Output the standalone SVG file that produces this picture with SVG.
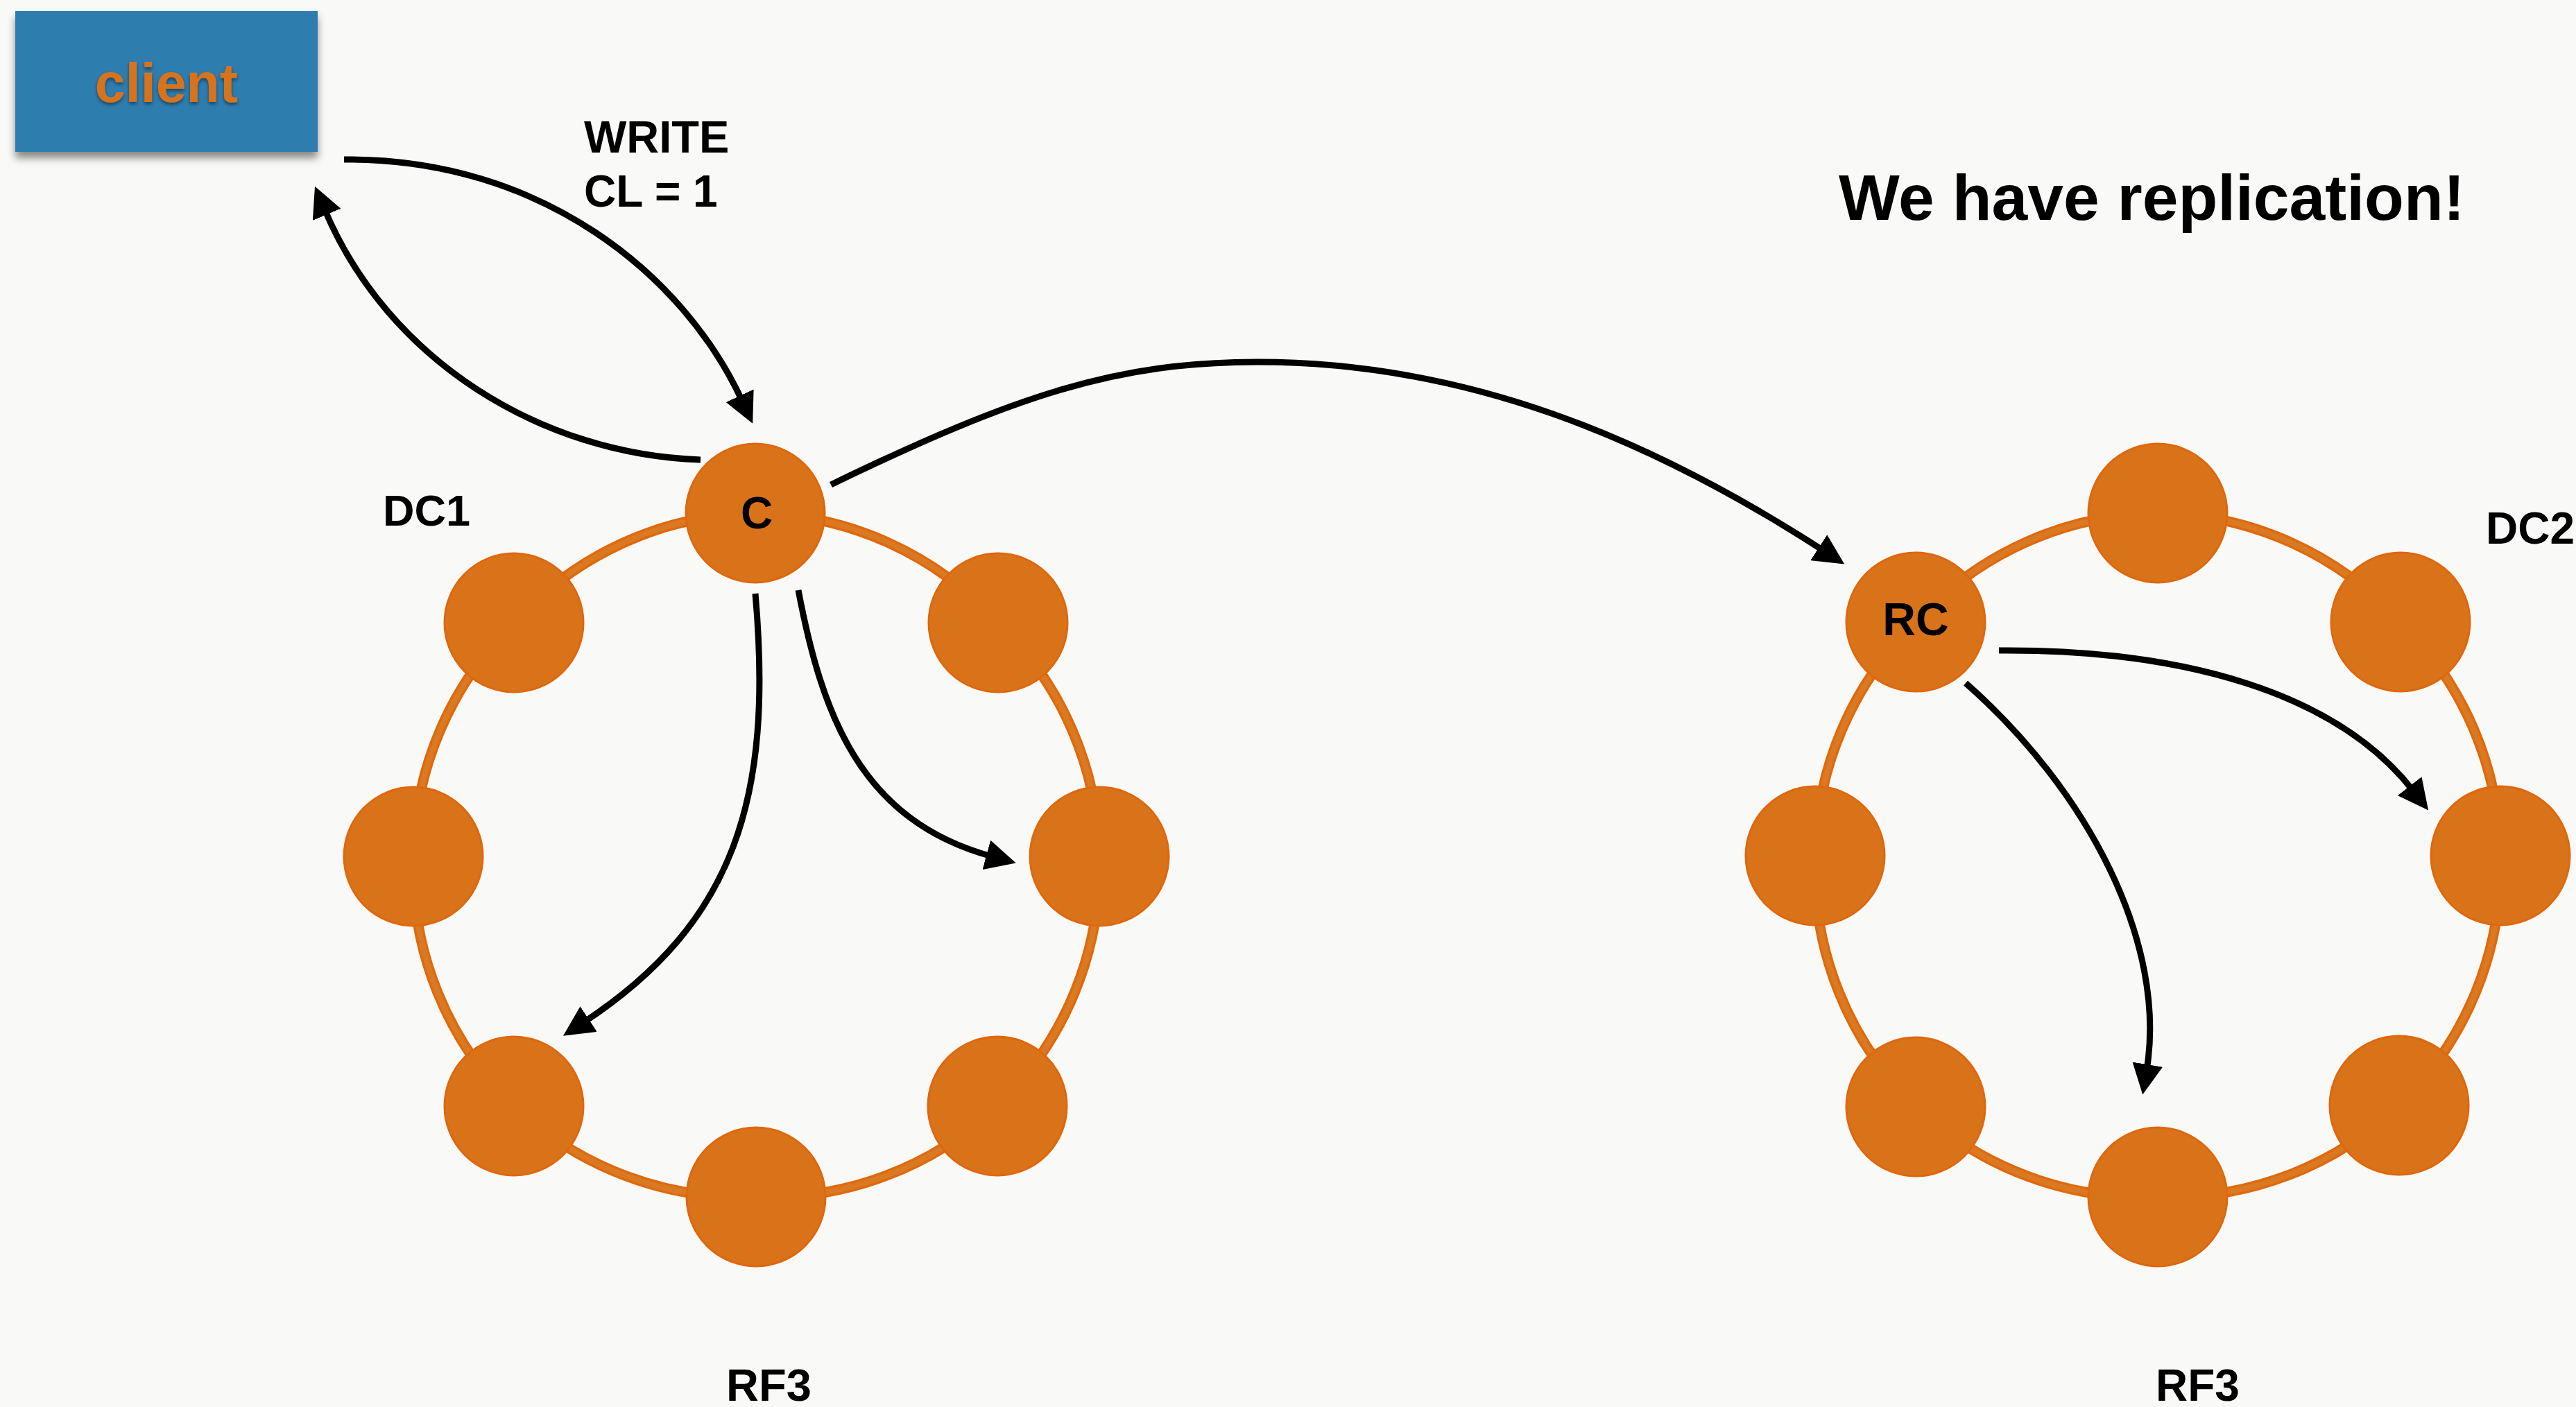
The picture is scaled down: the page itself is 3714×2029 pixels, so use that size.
<svg xmlns="http://www.w3.org/2000/svg" width="3714" height="2029" viewBox="0 0 3714 2029">
<defs>
<style>
.lbl{font-family:"Liberation Sans",Arial,Helvetica,sans-serif;font-weight:bold;fill:#000}
.node{fill:#D8731A;stroke:#E0670D;stroke-width:3}
.ring{fill:none;stroke:#E0690E;stroke-width:15}
.ringc{fill:none;stroke:#D97A22;stroke-width:8}
.arr{fill:none;stroke:#000;stroke-width:9;marker-end:url(#ah)}
</style>
<marker id="ah" markerUnits="userSpaceOnUse" markerWidth="44" markerHeight="44" viewBox="0 0 44 44" refX="8" refY="22" orient="auto">
<path d="M0,0 L44,22 L0,44 z" fill="#000"/>
</marker>
<filter id="boxshadow" x="-10%" y="-10%" width="120%" height="130%">
<feDropShadow dx="0" dy="9" stdDeviation="6" flood-color="#000" flood-opacity="0.45"/>
</filter>
<filter id="txtshadow" x="-10%" y="-10%" width="120%" height="130%">
<feDropShadow dx="0" dy="3" stdDeviation="2.5" flood-color="#000" flood-opacity="0.45"/>
</filter>
<path id="r1" d="M1089,740 A480,480 0 0 1 1439,898 A480,480 0 0 1 1585,1235 A480,480 0 0 1 1438,1595 A480,480 0 0 1 1090,1726 A480,480 0 0 1 741,1595 A480,480 0 0 1 596,1235 A480,480 0 0 1 741,898 A480,480 0 0 1 1089,740"/>
<path id="r2" d="M3111,740 A480,480 0 0 1 3461,897 A480,480 0 0 1 3605,1234 A480,480 0 0 1 3459,1594 A480,480 0 0 1 3111,1726 A480,480 0 0 1 2762,1596 A480,480 0 0 1 2617,1234 A480,480 0 0 1 2762,897 A480,480 0 0 1 3111,740"/>
</defs>
<rect x="0" y="0" width="3714" height="2029" fill="#F9F9F7"/>

<g id="connectors">
<g id="ring-dc1">
<use href="#r1" class="ring"/>
<use href="#r1" class="ringc"/>
</g>
<g id="ring-dc2">
<use href="#r2" class="ring"/>
<use href="#r2" class="ringc"/>
</g>
<g id="arrows">
<path class="arr" d="M496,230 C780,228 985,395 1070,578"/>
<path class="arr" d="M1010,663 C780,655 560,520 468,302"/>
<path class="arr" d="M1198,699 C1468,568 1613,522 1813,522 C2113,522 2377,631 2629,794"/>
<path class="arr" d="M1089,856 C1115,1150 1060,1330 842,1474"/>
<path class="arr" d="M1151,851 C1185,1030 1240,1183 1430,1235"/>
<path class="arr" d="M2882,938 C3150,936 3370,1000 3479,1140"/>
<path class="arr" d="M2834,985 C3010,1140 3125,1360 3095,1543"/>
</g>
</g>

<g id="client">
<rect x="22" y="16" width="436" height="203" fill="#2D7DAF" filter="url(#boxshadow)"/>
<text class="lbl" x="240" y="147" text-anchor="middle" font-size="79" style="fill:#D6731B" filter="url(#txtshadow)">client</text>
</g>

<g id="dc1-c"><circle class="node" cx="1089" cy="740" r="100"/><text class="lbl" x="1091" y="762" text-anchor="middle" font-size="64">C</text></g>
<g id="dc1-n1"><circle class="node" cx="1439" cy="898" r="100"/></g>
<g id="dc1-n2"><circle class="node" cx="1585" cy="1235" r="100"/></g>
<g id="dc1-n3"><circle class="node" cx="1438" cy="1595" r="100"/></g>
<g id="dc1-n4"><circle class="node" cx="1090" cy="1726" r="100"/></g>
<g id="dc1-n5"><circle class="node" cx="741" cy="1595" r="100"/></g>
<g id="dc1-n6"><circle class="node" cx="596" cy="1235" r="100"/></g>
<g id="dc1-n7"><circle class="node" cx="741" cy="898" r="100"/></g>

<g id="dc2-rc"><circle class="node" cx="2762" cy="897" r="100"/><text class="lbl" x="2762" y="916" text-anchor="middle" font-size="66">RC</text></g>
<g id="dc2-n1"><circle class="node" cx="3111" cy="740" r="100"/></g>
<g id="dc2-n2"><circle class="node" cx="3461" cy="897" r="100"/></g>
<g id="dc2-n3"><circle class="node" cx="3605" cy="1234" r="100"/></g>
<g id="dc2-n4"><circle class="node" cx="3459" cy="1594" r="100"/></g>
<g id="dc2-n5"><circle class="node" cx="3111" cy="1726" r="100"/></g>
<g id="dc2-n6"><circle class="node" cx="2762" cy="1596" r="100"/></g>
<g id="dc2-n7"><circle class="node" cx="2617" cy="1234" r="100"/></g>

<g id="labels">
<text class="lbl" x="842" y="220" font-size="65">WRITE</text>
<text class="lbl" x="842" y="298" font-size="64">CL = 1</text>
<text class="lbl" x="552" y="758" font-size="63">DC1</text>
<text class="lbl" x="3584" y="784" font-size="64">DC2</text>
<text class="lbl" x="2651" y="317" font-size="93">We have replication!</text>
<text class="lbl" x="1047" y="2020" font-size="65">RF3</text>
<text class="lbl" x="3108" y="2020" font-size="64">RF3</text>
</g>
</svg>
